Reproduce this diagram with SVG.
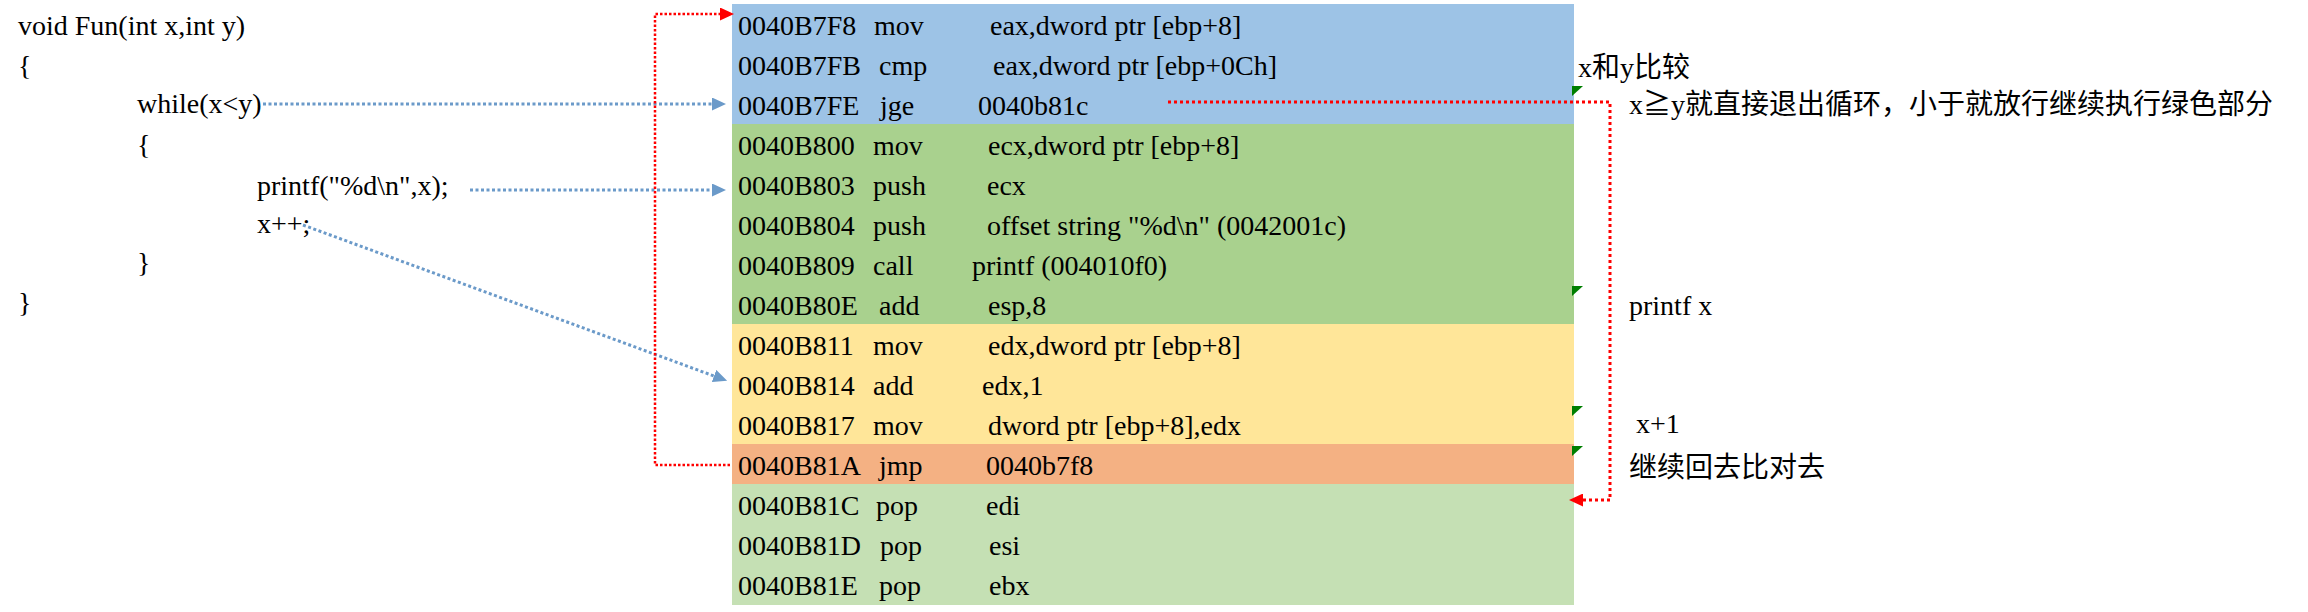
<svg xmlns="http://www.w3.org/2000/svg" width="2308" height="612" viewBox="0 0 2308 612">
<style>
.t{font-family:"Liberation Serif","Noto Sans CJK SC",serif;font-size:28px;fill:#000}
.blue{fill:none;stroke:#6B9AC9;stroke-width:3;stroke-dasharray:3 2.5}
.redL{fill:none;stroke:#FF0000;stroke-width:2.5;stroke-dasharray:2.5 2}
.redR{fill:none;stroke:#FF0000;stroke-width:3;stroke-dasharray:3 3}
.mark{fill:#007F00}
</style>
<defs>
<marker id="ab" markerUnits="userSpaceOnUse" markerWidth="14" markerHeight="13" refX="0" refY="6.5" orient="auto"><path d="M0,0 L14,6.5 L0,13 z" fill="#6B9AC9"/></marker>
<marker id="ar" markerUnits="userSpaceOnUse" markerWidth="14" markerHeight="13" refX="0" refY="6.5" orient="auto"><path d="M0,0 L14,6.5 L0,13 z" fill="#FF0000"/></marker>
</defs>
<rect width="2308" height="612" fill="#fff"/>
<g id="source">
<text class="t" x="18" y="35">void Fun(int x,int y)</text>
<text class="t" x="18" y="75">{</text>
<text class="t" x="137" y="113">while(x&lt;y)</text>
<text class="t" x="137" y="154">{</text>
<text class="t" x="257" y="195">printf("%d\n",x);</text>
<text class="t" x="257" y="233">x++;</text>
<text class="t" x="137" y="272">}</text>
<text class="t" x="18" y="312">}</text>
</g>
<g id="asm">
<rect x="732" y="4" width="842" height="120" fill="#9DC3E6"/>
<rect x="732" y="124" width="842" height="200" fill="#A9D18E"/>
<rect x="732" y="324" width="842" height="120" fill="#FFE699"/>
<rect x="732" y="444" width="842" height="40" fill="#F4B183"/>
<rect x="732" y="484" width="842" height="121" fill="#C5E0B4"/>
<g id="r0"><text class="t" x="738" y="35">0040B7F8</text><text class="t" x="874" y="35">mov</text><text class="t" x="990" y="35">eax,dword ptr [ebp+8]</text></g>
<g id="r1"><text class="t" x="738" y="75">0040B7FB</text><text class="t" x="879" y="75">cmp</text><text class="t" x="993" y="75">eax,dword ptr [ebp+0Ch]</text></g>
<g id="r2"><text class="t" x="738" y="115">0040B7FE</text><text class="t" x="880" y="115">jge</text><text class="t" x="978" y="115">0040b81c</text></g>
<g id="r3"><text class="t" x="738" y="155">0040B800</text><text class="t" x="873" y="155">mov</text><text class="t" x="988" y="155">ecx,dword ptr [ebp+8]</text></g>
<g id="r4"><text class="t" x="738" y="195">0040B803</text><text class="t" x="873" y="195">push</text><text class="t" x="987" y="195">ecx</text></g>
<g id="r5"><text class="t" x="738" y="235">0040B804</text><text class="t" x="873" y="235">push</text><text class="t" x="987" y="235">offset string "%d\n" (0042001c)</text></g>
<g id="r6"><text class="t" x="738" y="275">0040B809</text><text class="t" x="873" y="275">call</text><text class="t" x="972" y="275">printf (004010f0)</text></g>
<g id="r7"><text class="t" x="738" y="315">0040B80E</text><text class="t" x="879" y="315">add</text><text class="t" x="988" y="315">esp,8</text></g>
<g id="r8"><text class="t" x="738" y="355">0040B811</text><text class="t" x="873" y="355">mov</text><text class="t" x="988" y="355">edx,dword ptr [ebp+8]</text></g>
<g id="r9"><text class="t" x="738" y="395">0040B814</text><text class="t" x="873" y="395">add</text><text class="t" x="982" y="395">edx,1</text></g>
<g id="r10"><text class="t" x="738" y="435">0040B817</text><text class="t" x="873" y="435">mov</text><text class="t" x="988" y="435">dword ptr [ebp+8],edx</text></g>
<g id="r11"><text class="t" x="738" y="475">0040B81A</text><text class="t" x="879" y="475">jmp</text><text class="t" x="986" y="475">0040b7f8</text></g>
<g id="r12"><text class="t" x="738" y="515">0040B81C</text><text class="t" x="876" y="515">pop</text><text class="t" x="986" y="515">edi</text></g>
<g id="r13"><text class="t" x="738" y="555">0040B81D</text><text class="t" x="880" y="555">pop</text><text class="t" x="989" y="555">esi</text></g>
<g id="r14"><text class="t" x="738" y="595">0040B81E</text><text class="t" x="879" y="595">pop</text><text class="t" x="989" y="595">ebx</text></g>
</g>
<g id="markers">
<polygon class="mark" points="1572,86 1583,86 1572,96"/>
<polygon class="mark" points="1572,286 1583,286 1572,296"/>
<polygon class="mark" points="1572,406 1583,406 1572,416"/>
<polygon class="mark" points="1572,446 1583,446 1572,456"/>
</g>
<g id="notes">
<text class="t" x="1578" y="77">x和y比较</text>
<text class="t" x="1629" y="114">x≧y就直接退出循环，小于就放行继续执行绿色部分</text>
<text class="t" x="1629" y="315">printf x</text>
<text class="t" x="1636" y="433">x+1</text>
<text class="t" x="1629" y="477">继续回去比对去</text>
</g>
<g id="connectors">
<path class="blue" d="M263,104 L712,104" marker-end="url(#ab)"/>
<path class="blue" d="M470,190 L712,190" marker-end="url(#ab)"/>
<path class="blue" d="M303,225 L714,376" marker-end="url(#ab)"/>
<path class="redL" d="M730,465 L655,465 L655,14 L720,14" marker-end="url(#ar)"/>
<path class="redR" d="M1168,102 L1610,102 L1610,500 L1583,500" marker-end="url(#ar)"/>
</g>
</svg>
